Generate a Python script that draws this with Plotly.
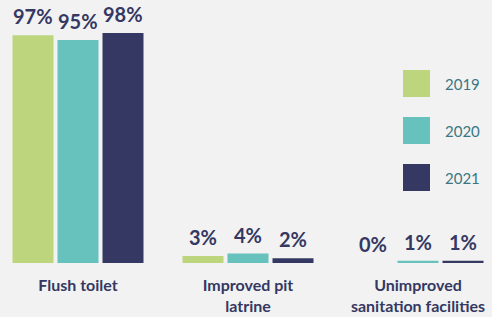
import plotly.graph_objects as go

categories = ["Flush toilet", "Improved pit<br>latrine", "Unimproved<br>sanitation facilities"]
years = ["2019", "2020", "2021"]
values_2019 = [97, 3, 0]
values_2020 = [95, 4, 1]
values_2021 = [98, 2, 1]
series = [values_2019, values_2020, values_2021]
colors = ["#bdd67e", "#67c2bd", "#343862"]

W, H = 492, 317
BG = "#f2f2f2"
NAVY = "#343862"

fig = go.Figure()
for yr, vals, col in zip(years, series, colors):
    fig.add_trace(go.Bar(
        x=categories, y=vals, name=yr, marker=dict(color=col, line=dict(width=0)),
        showlegend=False, hoverinfo="skip",
    ))

# value labels
offsets = [-45, 0, 45]
ann = []
for vals, dx in zip(series, offsets):
    for c, v in zip(categories, vals):
        ann.append(dict(x=c, y=v, xref="x", yref="y", text=f"<b>{v}%</b>", showarrow=False,
                        xshift=dx, yanchor="bottom", yshift=5,
                        font=dict(family="Lato", size=20, color=NAVY)))

# legend (drawn manually)
plot_h = 263
def px(x):
    return x / W
def py(y):
    return 1 - y / plot_h
shapes = []
leg_tops = [70, 117, 164]
for yr, col, top in zip(years, colors, leg_tops):
    shapes.append(dict(type="rect", xref="paper", yref="paper",
                       x0=px(403), x1=px(430), y0=py(top + 27), y1=py(top),
                       fillcolor=col, line=dict(width=0)))
    ann.append(dict(x=px(443), y=py(top + 13.5), xref="paper", yref="paper", text=yr,
                    showarrow=False, xanchor="left", yanchor="middle",
                    font=dict(family="Lato", size=15, color="#3b7782")))

r0 = -78 / 170
fig.update_layout(
    width=W, height=H,
    margin=dict(l=0, r=0, t=0, b=H - plot_h),
    paper_bgcolor=BG, plot_bgcolor=BG,
    barmode="group", bargap=35 / 170, bargroupgap=4 / 45,
    xaxis=dict(range=[r0, r0 + W / 170], showgrid=False, zeroline=False, showline=False,
               ticks="", tickfont=dict(family="Lato", size=16, color="#343862"),
               ticklabelstandoff=11),
    yaxis=dict(range=[0, plot_h / 2.347], visible=False),
    annotations=ann, shapes=shapes,
    font=dict(family="Lato"),
)
fig.update_xaxes(ticktext=[f"<b>{c}</b>" for c in categories], tickvals=categories)
fig.write_html("out.html", config={"displayModeBar": False},
               post_script="document.body.style.margin='0';document.body.style.background='#f2f2f2';document.body.style.overflow='hidden';")
